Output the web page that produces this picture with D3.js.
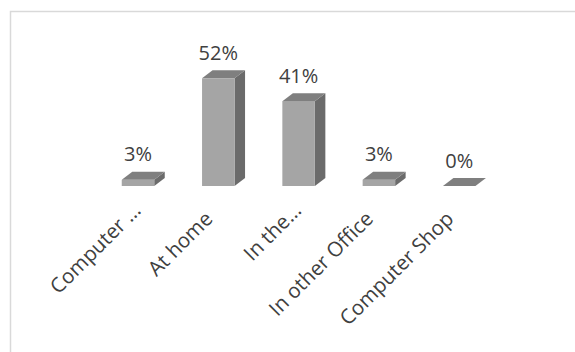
<!DOCTYPE html>
<html>
<head>
<meta charset="utf-8">
<script src="https://cdn.jsdelivr.net/npm/d3@7"></script>
<style>
  html, body { margin: 0; padding: 0; background: #ffffff; }
  svg { display: block; }
</style>
</head>
<body>
<script>
// Where the work is done (share of respondents, %)
const categories = ["Computer ...", "At home", "In the...", "In other Office", "Computer Shop"];
const values = [3, 52, 41, 3, 0];
const valueLabels = ["3%", "52%", "41%", "3%", "0%"];

const W = 575, H = 352;
const svg = d3.select("body").append("svg")
  .attr("width", W).attr("height", H);

// chart frame (open on the right/bottom, clipped by the window)
svg.append("path")
  .attr("d", "M10.5,352 L10.5,11.5 L575,11.5")
  .attr("fill", "none")
  .attr("stroke", "#d9d9d9")
  .attr("stroke-width", 1.5);

const barW = 32.5;                  // front face width
const depthX = 10.5, depthY = -8;   // oblique depth offset

const x = d3.scalePoint().domain(categories).range([138, 459.2]);
const y = d3.scaleLinear().domain([0, 60]).range([186, 61.8]);

const font = "'Open Sans', 'DejaVu Sans', sans-serif";

const g = svg.append("g");
const bars = g.selectAll("g.bar")
  .data(categories.map((c, i) => ({ c, v: values[i], label: valueLabels[i] })))
  .join("g").attr("class", "bar");

bars.each(function (d) {
  const sel = d3.select(this);
  const x0 = x(d.c) - barW / 2, x1 = x0 + barW;
  const yt = y(d.v), yb = y(0);
  if (yb - yt > 0.01) {
    // side face
    sel.append("path")
      .attr("d", `M${x1},${yt} L${x1 + depthX},${yt + depthY} L${x1 + depthX},${yb + depthY} L${x1},${yb} Z`)
      .attr("fill", "#6b6b6b");
    // front face
    sel.append("rect")
      .attr("x", x0).attr("y", yt)
      .attr("width", barW).attr("height", yb - yt)
      .attr("fill", "#a5a5a5");
  }
  // top face
  sel.append("path")
    .attr("d", `M${x0},${yt} L${x0 + depthX},${yt + depthY} L${x1 + depthX},${yt + depthY} L${x1},${yt} Z`)
    .attr("fill", "#7f7f7f");
  // value label
  sel.append("text")
    .attr("x", x(d.c))
    .attr("y", yt + depthY - 10.5)
    .attr("text-anchor", "middle")
    .attr("font-family", font)
    .attr("font-size", "20px")
    .attr("fill", "#404040")
    .text(d.label);
});

// category axis labels, rotated; shortened (ellipsised) names sit a little
// further along their own direction
const axis = d3.axisBottom(x).tickSize(0).tickPadding(0);
const ax = svg.append("g")
  .attr("transform", `translate(-10,215)`)
  .call(axis);
ax.select(".domain").remove();
ax.selectAll("text")
  .attr("font-family", font)
  .attr("font-size", "20.5px")
  .attr("fill", "#404040")
  .attr("text-anchor", "end")
  .attr("dy", "0.35em")
  .attr("y", 0)
  .attr("x", d => d.endsWith("...") ? 12 : 0)
  .attr("transform", "rotate(-45)");
</script>
</body>
</html>
